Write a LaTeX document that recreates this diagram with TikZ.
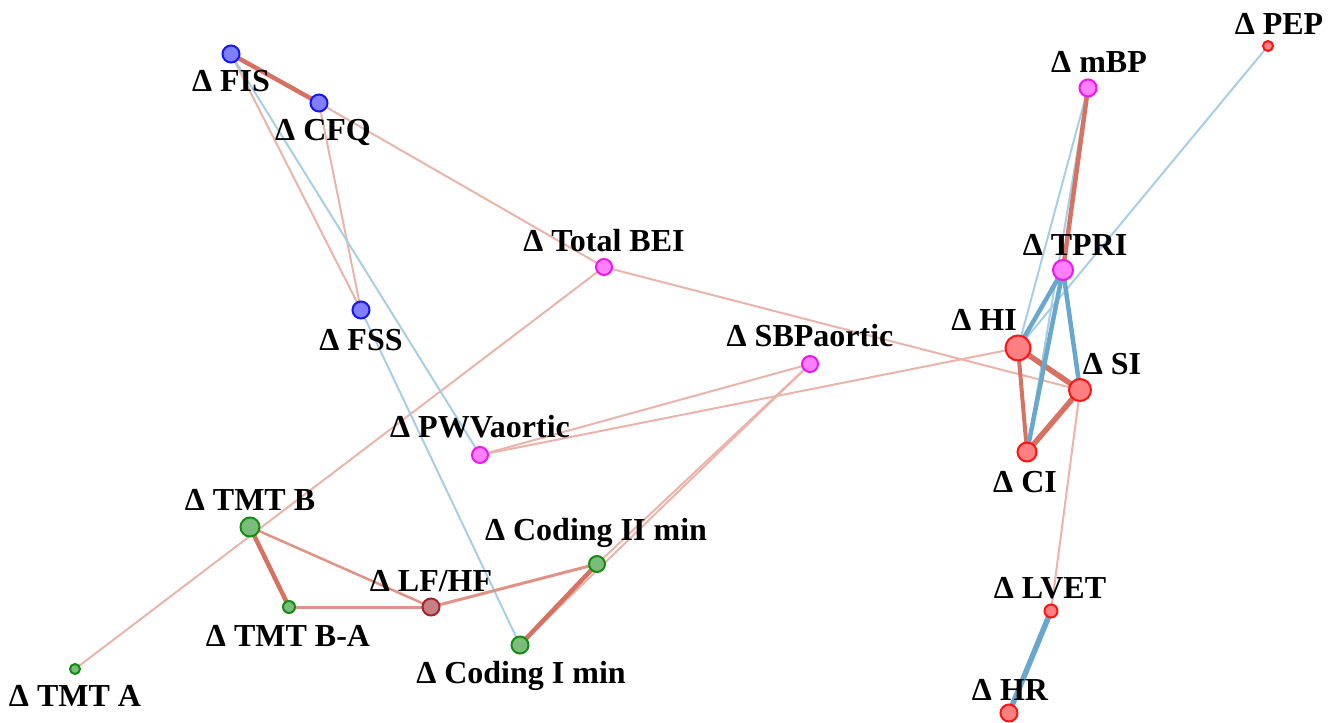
\documentclass[tikz,border=0pt]{standalone}
\usepackage{fontspec}
\setmainfont{Liberation Serif}
\definecolor{edgeR}{RGB}{214,114,98}
\definecolor{edgeRm}{RGB}{224,146,132}
\definecolor{edgeRl}{RGB}{234,180,170}
\definecolor{edgeB}{RGB}{104,168,206}
\definecolor{edgeBl}{RGB}{168,206,228}
\definecolor{cogFill}{RGB}{128,128,255}
\definecolor{cogLine}{RGB}{20,20,255}
\definecolor{vasFill}{RGB}{255,128,255}
\definecolor{vasLine}{RGB}{240,20,240}
\definecolor{neuFill}{RGB}{122,188,122}
\definecolor{neuLine}{RGB}{20,140,20}
\definecolor{hemFill}{RGB}{255,128,128}
\definecolor{hemLine}{RGB}{255,20,20}
\definecolor{autFill}{RGB}{196,128,130}
\definecolor{autLine}{RGB}{165,35,45}
\pgfdeclarelayer{edges}
\pgfsetlayers{edges,main}
\begin{document}
\begin{tikzpicture}[x=1pt,y=-1pt,
  vtx/.style={circle,line width=2pt,inner sep=0pt,minimum size=#1},
  cog/.style={vtx=#1,draw=cogLine,fill=cogFill},
  vas/.style={vtx=#1,draw=vasLine,fill=vasFill},
  neu/.style={vtx=#1,draw=neuLine,fill=neuFill},
  hem/.style={vtx=#1,draw=hemLine,fill=hemFill},
  aut/.style={vtx=#1,draw=autLine,fill=autFill},
  lbl/.style={anchor=base,inner sep=0pt,font=\bfseries\fontsize{32}{32}\selectfont},
  rthick/.style={draw=edgeR,line width=4.5pt},
  rmid/.style={draw=edgeRm,line width=3pt},
  rthin/.style={draw=edgeRl,line width=2pt},
  bthick/.style={draw=edgeB,line width=4.5pt},
  bthin/.style={draw=edgeBl,line width=2pt}]
\useasboundingbox (0,0) rectangle (1337,722);

% cognitive / fatigue scores
\node[cog=17pt] (FIS) at (231,54) {};
\node[cog=17pt] (CFQ) at (319,103) {};
\node[cog=17pt] (FSS) at (361,310) {};
% vascular measures
\node[vas=16pt] (BEI) at (604,267) {};
\node[vas=16pt] (SBP) at (810,364) {};
\node[vas=16pt] (PWV) at (480,455) {};
\node[vas=17pt] (mBP) at (1088,88) {};
\node[vas=20pt] (TPRI) at (1063,270) {};
% neuropsychological tests
\node[neu=19pt] (TMTB) at (250,527) {};
\node[neu=12pt] (TMTBA) at (289,607) {};
\node[neu=16pt] (CodII) at (597,564) {};
\node[neu=17pt] (CodI) at (520,645) {};
\node[neu=10pt] (TMTA) at (75,669) {};
% autonomic balance
\node[aut=17pt] (LFHF) at (431,607) {};
% haemodynamics
\node[hem=10pt] (PEP) at (1268,46) {};
\node[hem=25pt] (HI) at (1018,348) {};
\node[hem=22pt] (SI) at (1080,390) {};
\node[hem=19pt] (CI) at (1027,452) {};
\node[hem=13pt] (LVET) at (1051,611) {};
\node[hem=17pt] (HR) at (1009,713) {};

\begin{pgfonlayer}{edges}
% thin positive links
\draw[rthin] (FIS.center) -- (FSS.center);
\draw[rthin] (CFQ.center) -- (FSS.center);
\draw[rthin] (CFQ.center) -- (BEI.center);
\draw[rthin] (BEI.center) -- (SI.center);
\draw[rthin] (TMTA.center) -- (BEI.center);
\draw[rthin] (PWV.center) -- (SBP.center);
\draw[rthin] (PWV.center) -- (HI.center);
\draw[rthin] (CodI.center) -- (SBP.center);
\draw[rthin] (CodII.center) -- (SBP.center);
\draw[rthin] (SI.center) -- (LVET.center);
% thin negative links
\draw[bthin] (FIS.center) -- (PWV.center);
\draw[bthin] (FSS.center) -- (CodI.center);
\draw[bthin] (mBP.center) -- (HI.center);
\draw[bthin] (mBP.center) -- (CI.center);
\draw[bthin] (PEP.center) -- (HI.center);
% medium positive links
\draw[rmid,line width=2.5pt] (TMTB.center) -- (LFHF.center);
\draw[rmid] (TMTBA.center) -- (LFHF.center);
\draw[rmid] (LFHF.center) -- (CodII.center);
% strong positive links
\draw[rthick] (FIS.center) -- (CFQ.center);
\draw[rthick] (TMTB.center) -- (TMTBA.center);
\draw[rthick] (CodI.center) -- (CodII.center);
\draw[rthick] (mBP.center) -- (TPRI.center);
\draw[rthick,line width=4pt] (HI.center) -- (CI.center);
\draw[rthick,line width=5.5pt] (HI.center) -- (SI.center);
\draw[rthick,line width=5.5pt] (SI.center) -- (CI.center);
% strong negative links
\draw[bthick] (TPRI.center) -- (HI.center);
\draw[bthick] (TPRI.center) -- (SI.center);
\draw[bthick] (TPRI.center) -- (CI.center);
\draw[bthick,line width=5.5pt] (LVET.center) -- (HR.center);
\end{pgfonlayer}

% labels
\node[lbl] (tFIS) at (231,92) {Δ FIS};
\node[lbl] (tCFQ) at (323,141) {Δ CFQ};
\node[lbl] (tFSS) at (361,350) {Δ FSS};
\node[lbl] (tBEI) at (604,251) {Δ Total BEI};
\node[lbl] (tSBP) at (810,346) {Δ SBPaortic};
\node[lbl] (tPWV) at (480,437) {Δ PWVaortic};
\node[lbl] (tTMTB) at (250,510) {Δ TMT B};
\node[lbl] (tTMTBA) at (288,646) {Δ TMT B-A};
\node[lbl] (tLFHF) at (431,591) {Δ LF/HF};
\node[lbl] (tCodII) at (596,540) {Δ Coding II min};
\node[lbl] (tCodI) at (521,683) {Δ Coding I min};
\node[lbl] (tTMTA) at (75,706) {Δ TMT A};
\node[lbl] (tmBP) at (1099,73) {Δ mBP};
\node[lbl] (tPEP) at (1279,35) {Δ PEP};
\node[lbl] (tTPRI) at (1075,255) {Δ TPRI};
\node[lbl] (tHI) at (984,330) {Δ HI};
\node[lbl] (tSI) at (1112,374) {Δ SI};
\node[lbl] (tCI) at (1025,492) {Δ CI};
\node[lbl] (tLVET) at (1050,598) {Δ LVET};
\node[lbl] (tHR) at (1010,700) {Δ HR};
\end{tikzpicture}
\end{document}
